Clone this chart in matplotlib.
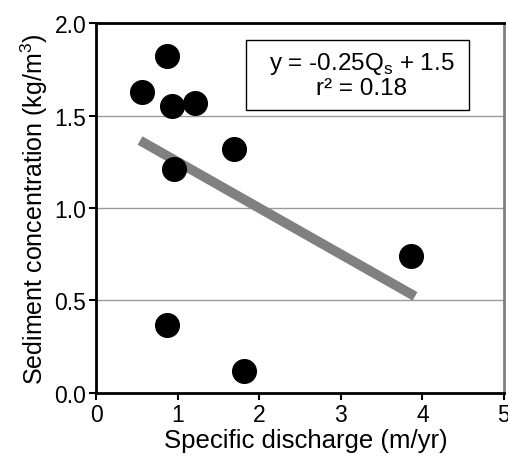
import numpy as np
import matplotlib
matplotlib.use("Agg")
import matplotlib.pyplot as plt
from matplotlib.patches import Rectangle

plt.rcParams['font.family'] = ['Liberation Sans', 'DejaVu Sans']

# data
q_s = [0.56, 0.87, 0.93, 1.21, 0.96, 1.69, 0.87, 1.81, 3.86]
conc = [1.63, 1.82, 1.55, 1.57, 1.21, 1.32, 0.37, 0.12, 0.74]
slope, intercept = -0.25, 1.5
fit_x = [0.54, 3.91]

fig = plt.figure(figsize=(5.08, 4.64), dpi=100)
ax = fig.add_axes([0.189, 0.151, 0.803, 0.797])

for yv in [0.5, 1.0, 1.5]:
    ax.axhline(yv, color='#9a9a9a', lw=1.0, zorder=0)

fx = np.array(fit_x)
ax.plot(fx, slope * fx + intercept, color='#808080', lw=7, solid_capstyle='butt', zorder=2)
ax.scatter(q_s, conc, s=290, color='black', zorder=3)

ax.set_xlim(0, 5)
ax.set_ylim(0, 2.0)
ax.set_xticks([0, 1, 2, 3, 4, 5])
ax.set_yticks([0.0, 0.5, 1.0, 1.5, 2.0])
ax.set_yticklabels(["0.0", "0.5", "1.0", "1.5", "2.0"])
ax.tick_params(direction='out', length=5, width=1.5, labelsize=16.5, pad=2)

for s in ['left', 'bottom', 'top']:
    ax.spines[s].set_linewidth(2)
    ax.spines[s].set_color('black')
ax.spines['right'].set_linewidth(2)
ax.spines['right'].set_color('#808080')

ax.set_xlabel("Specific discharge (m/yr)", fontsize=18.5, labelpad=0)
ax.xaxis.set_label_coords(0.515, -0.095)
ax.set_ylabel("Sediment concentration (kg/m$^\\mathregular{3}$)", fontsize=18, labelpad=3)

ax.add_patch(Rectangle((0.368, 0.765), 0.546, 0.189, transform=ax.transAxes,
                       facecolor='white', edgecolor='black', lw=1, zorder=4))
ax.text(0.652, 0.862, "y = -0.25Q$_\\mathregular{s}$ + 1.5\nr² = 0.18",
        transform=ax.transAxes, ha='center', va='center', fontsize=17.5,
        linespacing=1.05, zorder=5)

plt.savefig("out.png", dpi=100)
